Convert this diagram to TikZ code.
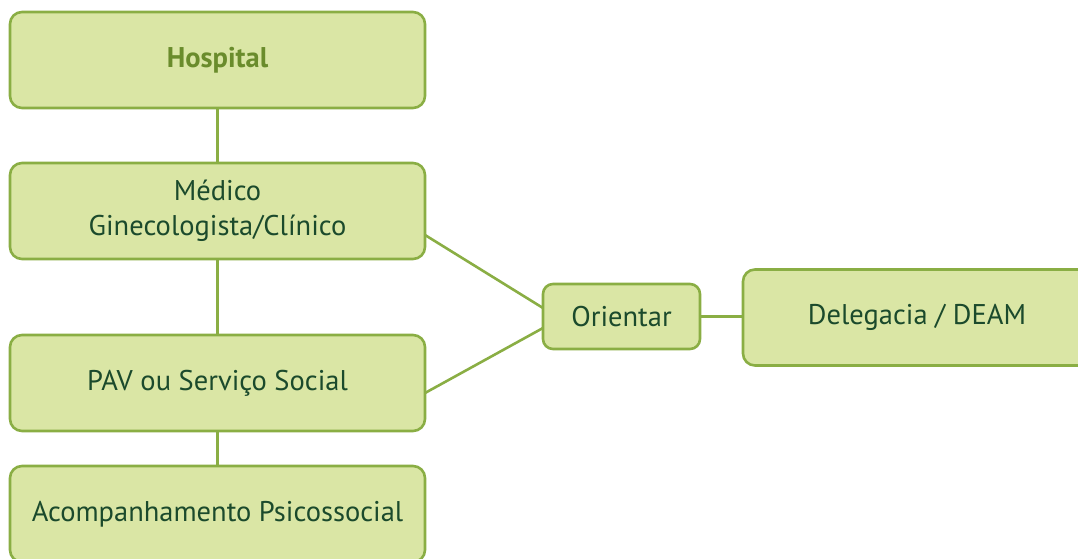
\documentclass[tikz,border=0pt]{standalone}
\usepackage{fontspec}
\setmainfont{PT Sans}
\definecolor{boxfill}{HTML}{DAE6A5}
\definecolor{boxline}{HTML}{8AAE44}
\definecolor{txt}{HTML}{1B4A2C}
\definecolor{hosp}{HTML}{6A8C2C}
\begin{document}
\begin{tikzpicture}[x=1pt,y=-1pt,
  box/.style={draw=boxline, fill=boxfill, line width=2.6pt, rounded corners=12pt,
    inner sep=0pt, align=center, text=txt, font=\fontsize{28.5}{35}\selectfont},
  conn/.style={draw=boxline, line width=2.6pt}]
\useasboundingbox (0,0) rectangle (1078,559);
\node[box, minimum width=415pt, minimum height=96pt, text=hosp, font=\fontsize{28.5}{35}\selectfont\bfseries] (hosp) at (217.5,60) {Hospital};
\node[box, minimum width=415pt, minimum height=96pt] (med) at (217.5,211) {Médico\\Ginecologista/Clínico};
\node[box, minimum width=415pt, minimum height=96pt] (pav) at (217.5,383) {PAV ou Serviço Social};
\node[box, minimum width=415pt, minimum height=96pt] (acomp) at (217.5,514) {Acompanhamento Psicossocial};
\node[box, minimum width=157pt, minimum height=65pt, rounded corners=10pt] (ori) at (621.5,316.5) {Orientar};
\node[box, minimum width=348pt, minimum height=96pt] (deam) at (917,317.5) {Delegacia / DEAM};
\coordinate (m1) at (425,235);
\coordinate (o1) at (543,308);
\coordinate (p1) at (425,393);
\coordinate (o2) at (543,328);
\draw[conn] (hosp.south) -- (med.north);
\draw[conn] (med.south) -- (pav.north);
\draw[conn] (pav.south) -- (acomp.north);
\draw[conn] (m1) -- (o1);
\draw[conn] (p1) -- (o2);
\draw[conn] (ori.east) -- (ori.east -| deam.west);
\end{tikzpicture}
\end{document}
